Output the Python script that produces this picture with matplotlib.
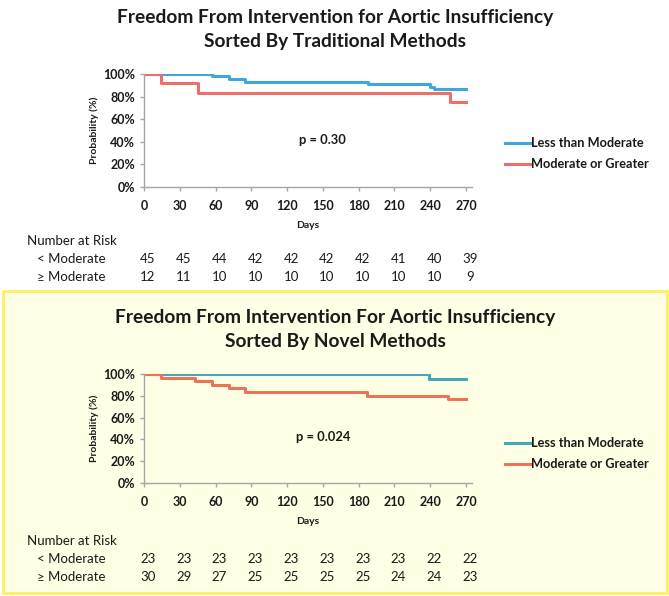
import matplotlib.pyplot as plt
from matplotlib.patches import Rectangle

plt.rcParams['font.family'] = ['Lato', 'DejaVu Sans']

W, H = 669, 596

# Kaplan-Meier steps (days, % free from intervention)
trad_less_days = [0, 57, 71, 85, 188, 240, 243, 270]
trad_less_surv = [100, 97.8, 95.6, 93.3, 91.1, 88.9, 86.7, 86.7]
trad_mod_days = [0, 14, 45, 257, 270]
trad_mod_surv = [100, 91.7, 83.3, 75.0, 75.0]

novel_less_days = [0, 239, 270]
novel_less_surv = [100, 95.7, 95.7]
novel_mod_days = [0, 14, 43, 57, 71, 85, 187, 255, 270]
novel_mod_surv = [100, 96.7, 93.3, 90.0, 86.7, 83.3, 80.0, 76.7, 76.7]

risk_days = [0, 30, 60, 90, 120, 150, 180, 210, 240, 270]
trad_risk_less = [45, 45, 44, 42, 42, 42, 42, 41, 40, 39]
trad_risk_mod = [12, 11, 10, 10, 10, 10, 10, 10, 10, 9]
novel_risk_less = [23, 23, 23, 23, 23, 23, 23, 23, 22, 22]
novel_risk_mod = [30, 29, 27, 25, 25, 25, 25, 24, 24, 23]

fig = plt.figure(figsize=(W / 100, H / 100), dpi=100)
fig.patch.set_facecolor('white')

# highlighted box around the second chart
fig.patches.append(Rectangle((3 / W, 3 / H), 664 / W, (H - 294) / H, transform=fig.transFigure,
                             facecolor='#FFFFE6', edgecolor='#FFF060', linewidth=2, zorder=-1))

TXT = '#1a1a1a'


def fy(y):
    return 1 - y / H


def panel(top, ax_h, title, less, mod, risk_less, risk_mod, pval, blue, red):
    # top = pixel y of the first title line
    fig.text(335 / W, fy(top), title[0], ha='center', va='center', fontsize=13.8, fontweight='bold', color=TXT)
    fig.text(335 / W, fy(top + 24), title[1], ha='center', va='center', fontsize=13.8, fontweight='bold', color=TXT)

    ax_top = top + 57
    x0, x270 = 144, 466
    right = x0 + (x270 - x0) * 275 / 270
    ax = fig.add_axes([x0 / W, fy(ax_top + ax_h), (right - x0) / W, ax_h / H], zorder=2)
    ax.patch.set_alpha(0)

    ax.step(less[0], less[1], where='post', color=blue, linewidth=2.2, label='Less than Moderate')
    ax.step(mod[0], mod[1], where='post', color=red, linewidth=2.2, label='Moderate or Greater')

    ax.set_xlim(0, 275)
    ax.set_ylim(0, 100)
    ax.set_xticks(risk_days)
    ax.set_yticks([0, 20, 40, 60, 80, 100])
    ax.set_yticklabels([f'{v}%' for v in [0, 20, 40, 60, 80, 100]])
    for s in ['top', 'right']:
        ax.spines[s].set_visible(False)
    for s in ['left', 'bottom']:
        ax.spines[s].set_color('#A6A6A6')
        ax.spines[s].set_linewidth(1)
    ax.tick_params(colors='#A6A6A6', length=3, width=1, labelcolor=TXT, labelsize=9)
    ax.tick_params(axis='x', pad=6)
    for lab in ax.get_xticklabels() + ax.get_yticklabels():
        lab.set_fontweight('bold')
    ax.set_ylabel('Probability (%)', fontsize=7.5, fontweight='bold', color=TXT, labelpad=3)
    ax.set_xlabel('Days', fontsize=7.5, fontweight='bold', color=TXT, labelpad=7)

    ax.text(150, 42, pval, ha='center', va='center', fontsize=9.3, fontweight='bold', color=TXT)

    # legend drawn off to the right
    for i, (lab, col) in enumerate([('Less than Moderate', blue), ('Moderate or Greater', red)]):
        ly = fy(top + 126 + i * 21)
        fig.add_artist(plt.Line2D([505 / W, 531 / W], [ly, ly], color=col, linewidth=2.2))
        fig.text(531 / W, ly, lab, ha='left', va='center', fontsize=9.2, fontweight='bold', color=TXT)

    # number at risk table
    fig.text(27 / W, fy(top + 224), 'Number at Risk', ha='left', va='center', fontsize=9.5, color=TXT)
    fig.text(37 / W, fy(top + 242), '< Moderate', ha='left', va='center', fontsize=9.5, color=TXT)
    fig.text(37 / W, fy(top + 260), '\u2265 Moderate', ha='left', va='center', fontsize=9.5, color=TXT)
    for d, a, b in zip(risk_days, risk_less, risk_mod):
        px = x0 + (x270 - x0) * d / 270 + 4
        fig.text(px / W, fy(top + 242), str(a), ha='center', va='center', fontsize=9.5, color=TXT)
        fig.text(px / W, fy(top + 260), str(b), ha='center', va='center', fontsize=9.5, color=TXT)


panel(17, 113, ['Freedom From Intervention for Aortic Insufficiency', 'Sorted By Traditional Methods'],
      (trad_less_days, trad_less_surv), (trad_mod_days, trad_mod_surv),
      trad_risk_less, trad_risk_mod, 'p = 0.30', '#3DA9DB', '#EC6F6B')

panel(317, 109, ['Freedom From Intervention For Aortic Insufficiency', 'Sorted By Novel Methods'],
      (novel_less_days, novel_less_surv), (novel_mod_days, novel_mod_surv),
      novel_risk_less, novel_risk_mod, 'p = 0.024', '#45A6BE', '#EC7258')

fig.savefig('out.png', dpi=100)
